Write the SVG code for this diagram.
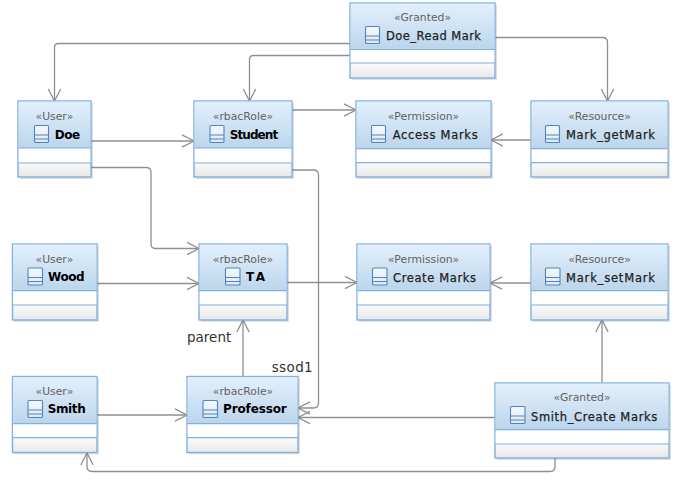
<svg xmlns="http://www.w3.org/2000/svg" width="680" height="480" viewBox="0 0 680 480">
<style>
text{font-family:"DejaVu Sans",sans-serif;text-anchor:middle}
.st{font-size:10.8px;fill:#626262}
.nm{font-size:11.5px;fill:#222;text-anchor:start;stroke:#222;stroke-width:.25}
.nb{font-size:12px;fill:#000;text-anchor:start;font-weight:bold}
.lb{font-size:13.5px;fill:#333;text-anchor:start}
.sh{fill:#000;opacity:.12}
.box{fill:url(#foot);stroke:#7fb0e2;stroke-width:1.4}
.hd{fill:url(#head)}
.mid{fill:#fff}
.div{stroke:#7fb0e2;stroke-width:1.2;fill:none}
.cn{fill:none;stroke:#8f8f8f;stroke-width:1.3;marker-end:url(#v)}
.ic{fill:url(#icon);stroke:#4f86c0;stroke-width:1.1}
.il{stroke:#4f86c0;stroke-width:1;fill:none}
</style>
<defs>
<linearGradient id="head" x1="0" y1="0" x2="0" y2="1"><stop offset="0" stop-color="#e2f0fd"/><stop offset="1" stop-color="#bcd5eb"/></linearGradient>
<linearGradient id="foot" x1="0" y1="0" x2="0" y2="1"><stop offset="0.8" stop-color="#fbfbfb"/><stop offset="1" stop-color="#e8e8e8"/></linearGradient>
<linearGradient id="icon" x1="0" y1="0" x2="0" y2="1"><stop offset="0" stop-color="#f4f8fc"/><stop offset="1" stop-color="#dfe9f3"/></linearGradient>
<marker id="v" markerUnits="userSpaceOnUse" markerWidth="16" markerHeight="16" refX="13" refY="8" orient="auto" overflow="visible"><path d="M1 1.8L13 8L1 14.2" fill="none" stroke="#8f8f8f" stroke-width="1.3"/></marker>
</defs>

<g id="connectors">
<path class="cn" d="M350 43.500H58.500Q54.500 43.500 54.500 47.500V101"/>
<path class="cn" d="M350 55.500H253.500Q249.500 55.500 249.500 59.500V101"/>
<path class="cn" d="M495 37.500H602.500Q607.500 37.500 607.500 42.500V101"/>
<path class="cn" d="M292 110H356"/>
<path class="cn" d="M531 140H491"/>
<path class="cn" d="M91 141H194"/>
<path class="cn" d="M91 167.500H146Q151 167.500 151 172.500V244Q151 248.500 155.500 248.500H199"/>
<path class="cn" d="M292 170H313.500Q318.500 170 318.500 175V403Q318.500 408 313.500 408H298"/>
<path class="cn" d="M97 283.500H199"/>
<path class="cn" d="M287 282.500H357"/>
<path class="cn" d="M531 283H490"/>
<path class="cn" d="M243 376.500V320"/>
<path class="cn" d="M97 415H187"/>
<path class="cn" d="M495 417.500H298"/>
<path class="cn" d="M555 458V466.500Q555 471.500 550 471.500H92Q87 471.500 87 466.500V453"/>
<path class="cn" d="M602 383V320"/>
</g>

<g id="granted-read">
<rect class="sh" x="352" y="5" width="145" height="75"/><rect class="box" x="350" y="3" width="145" height="75"/>
<rect class="hd" x="350.700" y="3.700" width="143.600" height="45.800"/><rect class="mid" x="350.700" y="49.500" width="143.600" height="13.500"/>
<path class="div" d="M350 49.500H495M350 63H495"/>
<rect class="ic" x="365.500" y="26.500" width="14" height="17" rx="1"/><path class="il" d="M365.500 36H379.500M365.500 40H379.500"/>
<text class="st" x="422.500" y="21">«Granted»</text><text class="nm" x="386" y="40" textLength="95">Doe_Read Mark</text>
</g>

<g id="doe">
<rect class="sh" x="20" y="103" width="73" height="76"/><rect class="box" x="18" y="101" width="73" height="76"/>
<rect class="hd" x="18.700" y="101.700" width="71.600" height="46.300"/><rect class="mid" x="18.700" y="148" width="71.600" height="15"/>
<path class="div" d="M18 148H91M18 163H91"/>
<rect class="ic" x="34.500" y="125.500" width="14" height="17" rx="1"/><path class="il" d="M34.500 135H48.500M34.500 139H48.500"/>
<text class="st" x="54.500" y="120">«User»</text><text class="nb" x="54.700" y="138.500" textLength="25.500">Doe</text>
</g>

<g id="student">
<rect class="sh" x="196" y="103" width="98" height="76"/><rect class="box" x="194" y="101" width="98" height="76"/>
<rect class="hd" x="194.700" y="101.700" width="96.600" height="46.300"/><rect class="mid" x="194.700" y="148" width="96.600" height="15"/>
<path class="div" d="M194 148H292M194 163H292"/>
<rect class="ic" x="210" y="125.500" width="14" height="17" rx="1"/><path class="il" d="M210 135H224M210 139H224"/>
<text class="st" x="243" y="120">«rbacRole»</text><text class="nb" x="229.700" y="138.500" textLength="48.500">Student</text>
</g>

<g id="access-marks">
<rect class="sh" x="358" y="103" width="135" height="76"/><rect class="box" x="356" y="101" width="135" height="76"/>
<rect class="hd" x="356.700" y="101.700" width="133.600" height="47"/><rect class="mid" x="356.700" y="148.700" width="133.600" height="14"/>
<path class="div" d="M356 148.700H491M356 162.700H491"/>
<rect class="ic" x="371.500" y="125.500" width="14" height="17" rx="1"/><path class="il" d="M371.500 135H385.500M371.500 139H385.500"/>
<text class="st" x="423.500" y="120">«Permission»</text><text class="nm" x="392.700" y="139" textLength="85">Access Marks</text>
</g>

<g id="mark-getmark">
<rect class="sh" x="533" y="103" width="137" height="76"/><rect class="box" x="531" y="101" width="137" height="76"/>
<rect class="hd" x="531.700" y="101.700" width="135.600" height="47"/><rect class="mid" x="531.700" y="148.700" width="135.600" height="14"/>
<path class="div" d="M531 148.700H668M531 162.700H668"/>
<rect class="ic" x="545.500" y="125.500" width="14" height="17" rx="1"/><path class="il" d="M545.500 135H559.500M545.500 139H559.500"/>
<text class="st" x="599.500" y="120">«Resource»</text><text class="nm" x="566" y="139" textLength="89">Mark_getMark</text>
</g>

<g id="wood">
<rect class="sh" x="14.500" y="246" width="84.500" height="76"/><rect class="box" x="12.500" y="244" width="84.500" height="76"/>
<rect class="hd" x="13.200" y="244.700" width="83.100" height="46"/><rect class="mid" x="13.200" y="290.700" width="83.100" height="14.300"/>
<path class="div" d="M12.500 290.700H97M12.500 305H97"/>
<rect class="ic" x="28" y="268" width="14.500" height="17" rx="1"/><path class="il" d="M28 277.500H42.500M28 281.500H42.500"/>
<text class="st" x="54.500" y="262.500">«User»</text><text class="nb" x="48" y="280.500" textLength="36.700">Wood</text>
</g>

<g id="ta">
<rect class="sh" x="201" y="246" width="88" height="76"/><rect class="box" x="199" y="244" width="88" height="76"/>
<rect class="hd" x="199.700" y="244.700" width="86.600" height="46"/><rect class="mid" x="199.700" y="290.700" width="86.600" height="14.300"/>
<path class="div" d="M199 290.700H287M199 305H287"/>
<rect class="ic" x="225.500" y="268" width="14.500" height="17" rx="1"/><path class="il" d="M225.500 277.500H240M225.500 281.500H240"/>
<text class="st" x="243" y="262.500">«rbacRole»</text><text class="nb" x="246" y="281" textLength="19">TA</text>
</g>

<g id="create-marks">
<rect class="sh" x="359" y="246" width="133" height="76"/><rect class="box" x="357" y="244" width="133" height="76"/>
<rect class="hd" x="357.700" y="244.700" width="131.600" height="46"/><rect class="mid" x="357.700" y="290.700" width="131.600" height="14.300"/>
<path class="div" d="M357 290.700H490M357 305H490"/>
<rect class="ic" x="372.500" y="268" width="14.500" height="17" rx="1"/><path class="il" d="M372.500 277.500H387M372.500 281.500H387"/>
<text class="st" x="423.500" y="262.500">«Permission»</text><text class="nm" x="393" y="281.500" textLength="83">Create Marks</text>
</g>

<g id="mark-setmark">
<rect class="sh" x="533" y="246" width="137" height="76"/><rect class="box" x="531" y="244" width="137" height="76"/>
<rect class="hd" x="531.700" y="244.700" width="135.600" height="46"/><rect class="mid" x="531.700" y="290.700" width="135.600" height="14.300"/>
<path class="div" d="M531 290.700H668M531 305H668"/>
<rect class="ic" x="545.500" y="268" width="14.500" height="17" rx="1"/><path class="il" d="M545.500 277.500H560M545.500 281.500H560"/>
<text class="st" x="599.500" y="262.500">«Resource»</text><text class="nm" x="566" y="281.500" textLength="89">Mark_setMark</text>
</g>

<g id="smith">
<rect class="sh" x="14.500" y="378.500" width="84.500" height="76"/><rect class="box" x="12.500" y="376.500" width="84.500" height="76"/>
<rect class="hd" x="13.200" y="377.200" width="83.100" height="46.500"/><rect class="mid" x="13.200" y="423.700" width="83.100" height="14"/>
<path class="div" d="M12.500 423.700H97M12.500 437.700H97"/>
<rect class="ic" x="28" y="400.500" width="14.500" height="17" rx="1"/><path class="il" d="M28 410H42.500M28 414H42.500"/>
<text class="st" x="54.500" y="395">«User»</text><text class="nb" x="47.700" y="413" textLength="38">Smith</text>
</g>

<g id="professor">
<rect class="sh" x="189" y="378.500" width="111" height="76"/><rect class="box" x="187" y="376.500" width="111" height="76"/>
<rect class="hd" x="187.700" y="377.200" width="109.600" height="46.500"/><rect class="mid" x="187.700" y="423.700" width="109.600" height="14"/>
<path class="div" d="M187 423.700H298M187 437.700H298"/>
<rect class="ic" x="203" y="400.500" width="14.500" height="17" rx="1"/><path class="il" d="M203 410H217.500M203 414H217.500"/>
<text class="st" x="243" y="395">«rbacRole»</text><text class="nb" x="223" y="413" textLength="63.700">Professor</text>
</g>

<g id="smith-create">
<rect class="sh" x="497" y="385" width="174" height="75"/><rect class="box" x="495" y="383" width="174" height="75"/>
<rect class="hd" x="495.700" y="383.700" width="172.600" height="46"/><rect class="mid" x="495.700" y="429.700" width="172.600" height="14.300"/>
<path class="div" d="M495 429.700H669M495 444H669"/>
<rect class="ic" x="510.500" y="406.500" width="14.500" height="17" rx="1"/><path class="il" d="M510.500 416H525M510.500 420H525"/>
<text class="st" x="582" y="401">«Granted»</text><text class="nm" x="531" y="420.500" textLength="126.300">Smith_Create Marks</text>
</g>

<text class="lb" x="187" y="342">parent</text>
<text class="lb" x="271.700" y="372" textLength="41">ssod1</text>
</svg>
